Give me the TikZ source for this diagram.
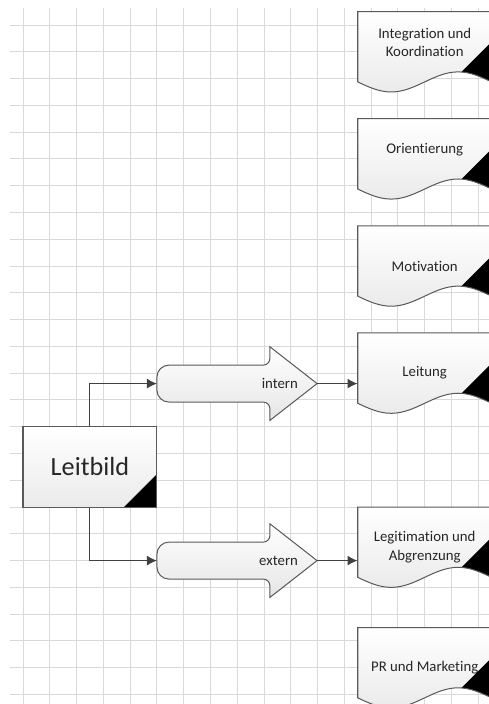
\documentclass[tikz,border=0pt]{standalone}
\usepackage{fontspec}
\setmainfont{Carlito}[Ligatures={NoCommon}]
\usetikzlibrary{arrows.meta,calc,positioning,backgrounds}

\newcommand{\docframe}[2]{%
	\begin{scope}[shift={($(#1.center)+(-2.5,#2)$)}]
		\path [docshape] (0,0) -- (0,-2.625) sin (1.25,-3) cos (2.5,-2.625) sin (3.75,-2.25) cos (5,-2.625) -- (5,0) -- cycle;
	\end{scope}}
\newcommand{\flowframe}[1]{%
	\begin{scope}[shift={(#1)}]
		\path [flowshape] (0,0) -- (0,0.24) arc[start angle=180,end angle=90,radius=0.45] -- (3.97,0.69) arc[start angle=270,end angle=360,radius=0.25] -- (4.22,1.375) -- (5.98,0) -- (4.22,-1.375) -- (4.22,-0.94) arc[start angle=0,end angle=90,radius=0.25] -- (0.45,-0.69) arc[start angle=270,end angle=180,radius=0.45] -- cycle;
	\end{scope}}

\begin{document}
\begin{tikzpicture}[x=0.7cm,y=0.7cm,>={Latex[length=2.6mm,width=2.6mm]}]
	\tikzstyle{gridline} = [draw=black!15, line width=0.7pt]
	\tikzstyle{block} = [draw=black!65, line width=0.75pt, top color=white, bottom color=black!8, minimum width=3.5cm, minimum height=2.1cm, font=\fontsize{19.5}{23}\selectfont, text=black!85, path picture={\fill [black] (path picture bounding box.south east) -- ++(-1.23,0) -- ++(1.23,1.23) -- cycle;}]
	\tikzstyle{docshape} = [draw=black!65, line width=0.75pt, top color=white, bottom color=black!8, path picture={\fill [black] ($(path picture bounding box.north east)+(0,-1.125)$) -- ++(-1.9,-1.9) -- ++(1.9,0) -- cycle;}]
	\tikzstyle{doctext} = [minimum width=3.5cm, inner xsep=0pt, align=center, font=\fontsize{11}{14}\selectfont, text=black!85]
	\tikzstyle{flowshape} = [draw=black!65, line width=0.75pt, top color=white, bottom color=black!10]
	\tikzstyle{flowtext} = [font=\fontsize{11}{14}\selectfont, text=black!85]
	\tikzstyle{link} = [draw=black!75, line width=0.75pt]

	\useasboundingbox (-0.859,0.934) rectangle (17.401,-25.355);

	% grid
	\begin{pgfonlayer}{background}
		\foreach \x in {0,...,17}
			\draw [gridline] (\x,0.635) -- (\x,-25.355);
		\foreach \y in {0,...,25}
			\draw [gridline] (-0.485,-\y) -- (17.401,-\y);
	\end{pgfonlayer}

	\node [block] (leitbild) at (2.5,-16.5) {Leitbild};

	\node [doctext] (integration) at (15,-0.65) {Integration und\\Koordination};
	\node [doctext] (orientierung) at (15,-4.67) {Orientierung};
	\node [doctext] (motivation) at (15,-9) {Motivation};
	\node [doctext] (leitung) at (15,-13) {Leitung};
	\node [doctext] (legitimation) at (15,-19.5) {Legitimation und\\Abgrenzung};
	\node [doctext] (pr) at (15,-24) {PR und Marketing};

	\node [coordinate] (intail) at (5,-13.39) {};
	\node [coordinate, right = 4.19cm of intail] (intip) {};
	\node [flowtext, left = 0.38cm of intip] (intern) {intern};
	\node [coordinate] (extail) at (5,-20) {};
	\node [coordinate, right = 4.19cm of extail] (extip) {};
	\node [flowtext, left = 0.38cm of extip] (extern) {extern};

	\begin{pgfonlayer}{background}
		\docframe{integration}{1.15}
		\docframe{orientierung}{1.17}
		\docframe{motivation}{1.5}
		\docframe{leitung}{1.5}
		\docframe{legitimation}{1.5}
		\docframe{pr}{1.5}
		\flowframe{intail}
		\flowframe{extail}
	\end{pgfonlayer}

	\draw [link, ->] (leitbild.north) |- (intail);
	\draw [link, ->] (leitbild.south) |- (extail);
	\draw [link, ->] (intip) -- (intip -| leitung.west);
	\draw [link, ->] (extip) -- (extip -| legitimation.west);
\end{tikzpicture}
\end{document}
